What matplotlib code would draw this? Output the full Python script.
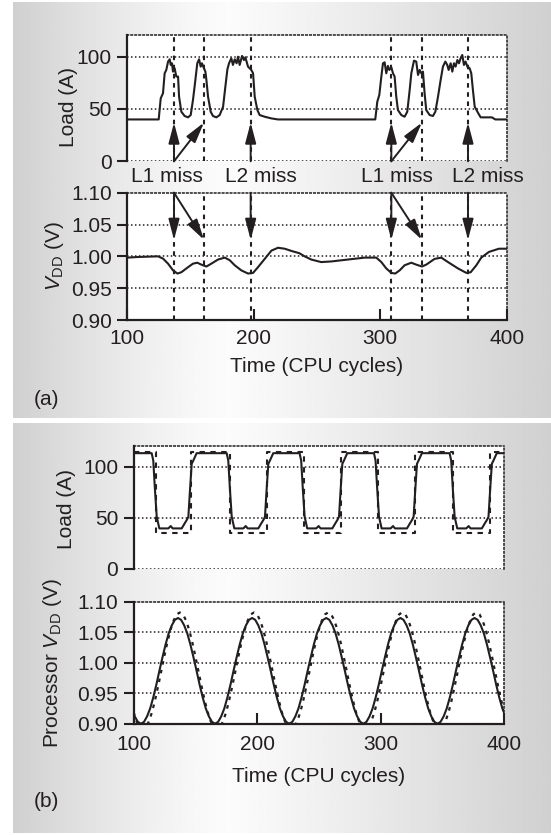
import numpy as np
import matplotlib
matplotlib.use("Agg")
import matplotlib.pyplot as plt
from matplotlib.transforms import blended_transform_factory

# ---------------- data ----------------
# (a) load current
load_a_t = [100, 124.9, 126.5, 128.3, 129.6, 130.9, 132.3, 133.6, 134.4, 135.4, 136.2, 137.5, 138.8, 140.2,
            141.0, 142.8, 145.4, 148.1, 150.2, 152.0, 153.9, 155.4, 156.8, 158.1, 159.1, 160.7, 161.8, 162.6,
            163.9, 166.0, 167.8, 170.5, 173.1, 175.8, 177.6, 179.2, 180.5, 182.3, 183.6, 185.0, 186.5, 187.6,
            188.9, 190.8, 192.3, 193.4, 195.5, 198.1, 199.5, 200.8, 202.9, 204.7, 208.7, 214.0, 219.2,
            296.1, 297.7, 299.3, 300.9, 302.2, 303.5, 304.8, 306.1, 307.2, 308.8, 310.1, 311.4, 312.7, 314.0,
            316.7, 319.3, 321.4, 323.3, 324.6, 326.7, 328.5, 329.9, 331.2, 332.5, 333.8, 335.1, 336.4, 339.1,
            341.7, 343.6, 345.7, 347.8, 349.6, 351.5, 353.0, 354.1, 355.7, 357.0, 358.3, 359.6, 361.0, 362.3,
            363.6, 364.9, 366.2, 367.5, 368.9, 370.7, 372.0, 373.3, 374.7, 377.3, 379.4, 388.3, 391.0, 400]
load_a = [40, 40, 60.2, 65, 84.1, 87.3, 95.3, 97.5, 92.1, 93.7, 85.7, 88.9, 81, 81,
          61.8, 47.4, 43.3, 42, 44.2, 58.6, 77.8, 93.7, 97.5, 90.5, 93.7, 88.9, 85.7, 77.8,
          61.8, 47.4, 43.3, 42, 44.2, 52.2, 71.3, 87.9, 93.7, 98.5, 92.1, 97.5, 93.7, 100,
          92.1, 100.7, 96.8, 99.4, 90.5, 87.3, 84.1, 61.8, 49, 44.2, 42.6, 41, 40,
          40, 57, 63.4, 81, 93.7, 94.6, 84.1, 91.2, 87.3, 89.8, 84.1, 81, 61.8, 49,
          44.2, 42.6, 47.4, 68.1, 84.1, 96.2, 95.3, 82.5, 87.3, 84.1, 85.7, 65, 49, 44.2,
          43.3, 47.4, 61.8, 77.8, 90.5, 95.3, 92.1, 87.3, 93.7, 85.7, 93.7, 90.5, 96.8, 93.7,
          98.5, 101.6, 92.1, 95.3, 90.5, 88.9, 84.1, 68.1, 52.2, 46.4, 42, 42, 40, 40]

# (a) supply voltage
vdd_a_t = [100, 108.5, 124.4, 128.3, 132.3, 136.2, 139.7, 142.8, 148.1, 152.0, 155.4, 158.6, 162.6, 166.5,
           171.8, 177.1, 181.0, 185.0, 190.2, 195.5, 199.5, 203.4, 208.7, 214.0, 219.2, 224.5, 229.8, 236.0,
           240.3, 245.5, 253.4, 261.4, 274.5, 287.7, 296.9, 300.9, 304.8, 308.8, 311.9, 315.4, 319.3, 324.6,
           328.5, 333.0, 336.4, 343.0, 348.3, 353.6, 361.5, 368.1, 371.5, 376.0, 379.9, 386.0, 393.9, 400]
vdd_a = [0.998, 0.999, 1.000, 0.9965, 0.9885, 0.978, 0.973, 0.975, 0.983, 0.9885, 0.990, 0.987, 0.984, 0.9885,
         0.995, 0.998, 0.994, 0.986, 0.978, 0.973, 0.974, 0.983, 0.996, 1.009, 1.0135, 1.012, 1.0085, 1.005,
         1.000, 0.995, 0.991, 0.992, 0.995, 0.998, 0.998, 0.991, 0.981, 0.974, 0.973, 0.978, 0.986, 0.990,
         0.987, 0.984, 0.987, 0.996, 0.998, 0.991, 0.981, 0.974, 0.975, 0.986, 0.998, 1.007, 1.012, 1.012]

# cache-miss events (a)
miss_l1 = [137.0, 308.8]
miss_l1_next = [160.7, 333.0]
miss_l2 = [197.6, 369.4]
miss_labels = ["L1 miss", "L2 miss", "L1 miss", "L2 miss"]
miss_label_t = [131.8, 205.4, 313.6, 385.2]

# (b) load current: measured (solid) and reference (dashed)
load_b_t = [100, 114.7, 116.0, 117.4, 118.8, 120.9, 128.2, 130.1, 131.7, 139.0, 141.7, 143.0, 144.4, 145.7, 147.1, 148.4, 151.1,
            175.4, 176.7, 178.1, 179.5, 181.6, 188.9, 190.8, 192.4, 201.0, 203.7, 205.0, 206.4, 207.7, 209.1, 210.4, 213.1,
            234.4, 235.7, 237.1, 238.5, 240.6, 247.9, 249.8, 251.4, 260.9, 263.6, 264.9, 266.3, 267.6, 269.0, 270.3, 273.0,
            294.6, 295.9, 297.3, 298.7, 300.8, 308.1, 310.0, 311.6, 321.3, 324.0, 325.3, 326.7, 328.0, 329.4, 330.7, 333.4,
            355.8, 357.1, 358.5, 359.9, 362.0, 369.3, 371.2, 372.8, 381.9, 384.6, 385.9, 387.3, 388.6, 390.0, 391.3, 394.0, 400]
load_b = [113, 113, 105.8, 76.7, 50.9, 39.6, 39.6, 41.9, 39.6, 39.6, 45.1, 47.6, 50.9, 76.7, 102.6, 105.8, 113,
          113, 105.8, 76.7, 50.9, 39.6, 39.6, 41.9, 39.6, 39.6, 45.1, 47.6, 50.9, 76.7, 102.6, 105.8, 113,
          113, 105.8, 76.7, 50.9, 39.6, 39.6, 41.9, 39.6, 39.6, 45.1, 47.6, 50.9, 76.7, 102.6, 105.8, 113,
          113, 105.8, 76.7, 50.9, 39.6, 39.6, 41.9, 39.6, 39.6, 45.1, 47.6, 50.9, 76.7, 102.6, 105.8, 113,
          113, 105.8, 76.7, 50.9, 39.6, 39.6, 41.9, 39.6, 39.6, 45.1, 47.6, 50.9, 76.7, 102.6, 105.8, 113, 113]
ref_load_b_t = [100, 118.3, 118.3, 146.3, 146.3, 178.5, 178.5, 207.7, 207.7, 238.0, 238.0,
                268.2, 268.2, 298.0, 298.0, 327.5, 327.5, 358.5, 358.5, 388.5, 388.5, 400]
ref_load_b = [114, 114, 35.5, 35.5, 114, 114, 35.5, 35.5, 114, 114, 35.5,
              35.5, 114, 114, 35.5, 35.5, 114, 114, 35.5, 35.5, 114, 114]

# (b) processor voltage: solid (sampled every 2.5 cycles from 98.5) and dashed (from 100)
vdd_b_t0, vdd_b_dt = 98.5, 2.5
vdd_b = [0.925, 0.912, 0.903,
         0.900, 0.903, 0.912, 0.925, 0.943, 0.964, 0.987, 1.009, 1.030, 1.048, 1.061, 1.070,
         1.073, 1.070, 1.061, 1.048, 1.030, 1.009, 0.987, 0.964, 0.943, 0.925, 0.912, 0.903,
         0.900, 0.903, 0.912, 0.925, 0.943, 0.964, 0.987, 1.009, 1.030, 1.048, 1.061, 1.070,
         1.073, 1.070, 1.061, 1.048, 1.030, 1.009, 0.987, 0.964, 0.943, 0.925, 0.912, 0.903,
         0.900, 0.903, 0.912, 0.925, 0.943, 0.964, 0.987, 1.009, 1.030, 1.048, 1.061, 1.070,
         1.073, 1.070, 1.061, 1.048, 1.030, 1.009, 0.987, 0.964, 0.943, 0.925, 0.912, 0.903,
         0.900, 0.903, 0.912, 0.925, 0.943, 0.964, 0.987, 1.009, 1.030, 1.048, 1.061, 1.070,
         1.073, 1.070, 1.061, 1.048, 1.030, 1.009, 0.987, 0.964, 0.943, 0.925, 0.912, 0.903,
         0.900, 0.903, 0.912, 0.925, 0.943, 0.964, 0.987, 1.009, 1.030, 1.048, 1.061, 1.070,
         1.073, 1.070, 1.061, 1.048, 1.030, 1.009, 0.987, 0.964, 0.943, 0.925, 0.912]
ref_vdd_b_t0 = 100.0
ref_vdd_b = [0.919, 0.904, 0.894,
             0.891, 0.894, 0.904, 0.919, 0.939, 0.962, 0.9865, 1.011, 1.034, 1.054, 1.069, 1.079,
             1.082, 1.079, 1.069, 1.054, 1.034, 1.011, 0.9865, 0.962, 0.939, 0.919, 0.904, 0.894,
             0.891, 0.894, 0.904, 0.919, 0.939, 0.962, 0.9865, 1.011, 1.034, 1.054, 1.069, 1.079,
             1.082, 1.079, 1.069, 1.054, 1.034, 1.011, 0.9865, 0.962, 0.939, 0.919, 0.904, 0.894,
             0.891, 0.894, 0.904, 0.919, 0.939, 0.962, 0.9865, 1.011, 1.034, 1.054, 1.069, 1.079,
             1.082, 1.079, 1.069, 1.054, 1.034, 1.011, 0.9865, 0.962, 0.939, 0.919, 0.904, 0.894,
             0.891, 0.894, 0.904, 0.919, 0.939, 0.962, 0.9865, 1.011, 1.034, 1.054, 1.069, 1.079,
             1.082, 1.079, 1.069, 1.054, 1.034, 1.011, 0.9865, 0.962, 0.939, 0.919, 0.904, 0.894,
             0.891, 0.894, 0.904, 0.919, 0.939, 0.962, 0.9865, 1.011, 1.034, 1.054, 1.069, 1.079,
             1.082, 1.079, 1.069, 1.054, 1.034, 1.011, 0.9865, 0.962, 0.939, 0.919]

x_ticks = [100, 200, 300, 400]
load_ticks = [0, 50, 100]
vdd_ticks = [0.90, 0.95, 1.00, 1.05, 1.10]

# ---------------- style ----------------
FAM = ["Liberation Sans", "DejaVu Sans"]
plt.rcParams["font.family"] = FAM
plt.rcParams["mathtext.fontset"] = "custom"
plt.rcParams["mathtext.rm"] = "Liberation Sans"
plt.rcParams["mathtext.it"] = "Liberation Sans:italic"
FS = 15
INK = "#231f20"

W, H = 551, 835
fig = plt.figure(figsize=(W / 100, H / 100), dpi=100)
fig.patch.set_facecolor("white")

# gradient background panels
bg = fig.add_axes([0, 0, 1, 1], zorder=-10)
bg.set_xlim(0, W)
bg.set_ylim(H, 0)
bg.axis("off")
xs = np.linspace(0, 1, 400)
lo, hi = 0.815, 0.985
peak = 0.40
prof = np.where(xs < peak, hi - (hi - lo) * ((peak - xs) / peak) ** 1.3,
                hi - (hi - lo) * ((xs - peak) / (1 - peak)) ** 1.1)
grad = np.tile(prof, (2, 1))
for (y0, y1) in [(3.3, 418.3), (423.3, 833.3)]:
    bg.imshow(grad, extent=[12.6, W, y1, y0], cmap="gray", vmin=0, vmax=1,
              aspect="auto", interpolation="bilinear")


def axrect(x0, x1, y0, y1):
    return [x0 / W, 1 - y1 / H, (x1 - x0) / W, (y1 - y0) / H]


def style(ax, yticks, ylim, xaxis, xpad=6):
    ax.set_facecolor("white")
    ax.set_xlim(100, 400)
    ax.set_ylim(*ylim)
    ax.set_yticks(yticks)
    for s in ["top", "right"]:
        ax.spines[s].set_linestyle((0, (1, 1.6)))
        ax.spines[s].set_linewidth(1.1)
        ax.spines[s].set_color(INK)
    ax.spines["left"].set_linewidth(1.6)
    ax.spines["left"].set_color(INK)
    ax.tick_params(axis="y", direction="out", length=7, width=1.5, pad=4,
                   labelsize=FS, colors=INK)
    for v in yticks:
        if v != ylim[1]:
            ax.axhline(v, color=INK, lw=1.1, ls=(0, (1, 1.6)), zorder=1)
    if xaxis:
        ax.spines["bottom"].set_linewidth(1.6)
        ax.spines["bottom"].set_color(INK)
        ax.set_xticks(x_ticks)
        ax.tick_params(axis="x", direction="in", length=8, width=1.5, pad=xpad,
                       labelsize=FS, colors=INK)
    else:
        ax.spines["bottom"].set_visible(False)
        ax.set_xticks([])


LW = 1.5
# ---------------- (a) ----------------
axA1 = fig.add_axes(axrect(127.2, 506.7, 34.7, 161.3))
style(axA1, load_ticks, (0, 121), False)
axA1.plot(load_a_t, load_a, color=INK, lw=LW, zorder=3)

axA2 = fig.add_axes(axrect(127.2, 506.7, 192.7, 320.0))
style(axA2, vdd_ticks, (0.90, 1.10), True, xpad=6.5)
axA2.plot(vdd_a_t, vdd_a, color=INK, lw=LW, zorder=3)

for ax in (axA1, axA2):
    for t in miss_l1 + miss_l1_next + miss_l2:
        ax.axvline(t, color=INK, lw=1.5, ls=(0, (2.2, 2.2)), zorder=2)

arrow_kw = dict(arrowstyle="-|>,head_length=1.25,head_width=0.33", mutation_scale=10,
                lw=1.4, color=INK, shrinkA=0, shrinkB=0)
for a, b, c in zip(miss_l1, miss_l1_next, miss_l2):
    for (x0, x1) in [(a, a), (a, b), (c, c)]:
        axA1.annotate("", xy=(x1, 37), xytext=(x0, 0), arrowprops=arrow_kw,
                      annotation_clip=False, zorder=4)
        axA2.annotate("", xy=(x1, 1.026), xytext=(x0, 1.10), arrowprops=arrow_kw,
                      annotation_clip=False, zorder=4)

tr = blended_transform_factory(axA1.transData, fig.transFigure)
for lab, t in zip(miss_labels, miss_label_t):
    axA1.text(t, 1 - 176.7 / H, lab, transform=tr, ha="center", va="center",
              fontsize=FS, color=INK)

fig.text(68.5 / W, 1 - 106.7 / H, "Load (A)", rotation=90, ha="center", va="center",
         fontsize=FS, color=INK)
fig.text(54.5 / W, 1 - 256.3 / H, r"$\mathit{V}_{\mathrm{DD}}$ (V)", rotation=90,
         ha="center", va="center", fontsize=FS, color=INK)
fig.text(316.9 / W, 1 - 366.7 / H, "Time (CPU cycles)", ha="center", va="center",
         fontsize=FS, color=INK)
fig.text(33.4 / W, 1 - 399.3 / H, "(a)", ha="left", va="center", fontsize=FS, color=INK)

# ---------------- (b) ----------------
axB1 = fig.add_axes(axrect(133.5, 504.2, 446.0, 569.0))
style(axB1, load_ticks, (0, 120), False)
axB1.plot(ref_load_b_t, ref_load_b, color=INK, lw=1.5, ls=(0, (2.6, 2.6)), zorder=2)
axB1.plot(load_b_t, load_b, color=INK, lw=LW, zorder=3)

axB2 = fig.add_axes(axrect(133.5, 504.2, 601.5, 723.7))
style(axB2, vdd_ticks, (0.90, 1.10), True, xpad=8)
tb = vdd_b_t0 + vdd_b_dt * np.arange(len(vdd_b))
tr_ = ref_vdd_b_t0 + vdd_b_dt * np.arange(len(ref_vdd_b))
axB2.plot(tr_, ref_vdd_b, color=INK, lw=1.6, ls=(0, (1.6, 2.4)), zorder=2)
axB2.plot(tb, vdd_b, color=INK, lw=LW, zorder=3)

fig.text(66.8 / W, 1 - 509 / H, "Load (A)", rotation=90, ha="center", va="center",
         fontsize=FS, color=INK)
fig.text(52.7 / W, 1 - 663 / H, r"Processor $\mathit{V}_{\mathrm{DD}}$ (V)", rotation=90,
         ha="center", va="center", fontsize=FS, color=INK)
fig.text(318.8 / W, 1 - 776.7 / H, "Time (CPU cycles)", ha="center", va="center",
         fontsize=FS, color=INK)
fig.text(33.4 / W, 1 - 801.7 / H, "(b)", ha="left", va="center", fontsize=FS, color=INK)

fig.savefig("out.png", dpi=100, facecolor="white")
